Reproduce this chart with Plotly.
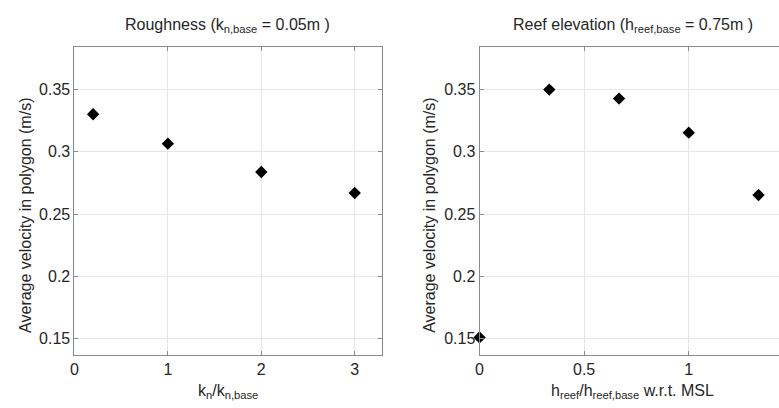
import plotly.graph_objects as go

W, H = 779, 408

# Data
rough_x = [0.2, 1, 2, 3]
rough_v = [0.3302, 0.3066, 0.2838, 0.2670]
reef_x = [0, 1/3, 2/3, 1, 4/3]
reef_v = [0.151, 0.350, 0.3428, 0.3154, 0.2654]

y_ticks = [0.15, 0.2, 0.25, 0.3, 0.35]
y_ticklabels = ["0.15", "0.2", "0.25", "0.3", "0.35"]
rough_ticks = [0, 1, 2, 3]
reef_ticks = [0, 0.5, 1, 1.5]
reef_ticklabels = ["0", "0.5", "1", "1.5"]

FONT = "Liberation Sans, Arial, sans-serif"
TXT = "#262626"
AX = "#8a8a8a"
GRID = "#e6e6e6"

def px(x):
    return x / W

def py(y):
    return 1 - y / H

fig = go.Figure()
mk = dict(symbol="diamond", size=9.5, color="black", line=dict(width=0))
fig.add_trace(go.Scatter(x=rough_x, y=rough_v, mode="markers", marker=mk,
                         xaxis="x", yaxis="y", showlegend=False, cliponaxis=False))
fig.add_trace(go.Scatter(x=reef_x, y=reef_v, mode="markers", marker=mk,
                         xaxis="x2", yaxis="y2", showlegend=False, cliponaxis=False))

ydom = [py(355), py(46.5)]
yrange = [0.1369, 0.3846]

common = dict(showline=True, linecolor=AX, linewidth=1, ticks="inside", ticklen=4,
              tickcolor=AX, showgrid=True, gridcolor=GRID, gridwidth=1, zeroline=False,
              tickfont=dict(family=FONT, size=16, color=TXT))

fig.update_layout(
    width=W, height=H,
    margin=dict(l=0, r=0, t=0, b=0),
    paper_bgcolor="white", plot_bgcolor="white",
    xaxis=dict(domain=[px(70.8), px(379.5)], range=[0, 3.287], tickvals=rough_ticks,
               mirror="ticks", anchor="y", **common),
    yaxis=dict(domain=ydom, range=yrange, tickvals=y_ticks, ticktext=y_ticklabels,
               mirror="ticks", anchor="x", **common),
    xaxis2=dict(domain=[px(478), 1.0], range=[0, (779 - 478) / 210.3], tickvals=reef_ticks,
                ticktext=reef_ticklabels, mirror="ticks", anchor="y2", **common),
    yaxis2=dict(domain=ydom, range=yrange, tickvals=y_ticks, ticktext=y_ticklabels,
                mirror=False, anchor="x2", **common),
)

def ann(text, x, y, angle=0, size=16):
    fig.add_annotation(text=text, x=px(x), y=py(y), xref="paper", yref="paper",
                       showarrow=False, textangle=angle, xanchor="center", yanchor="middle",
                       font=dict(family=FONT, size=size, color=TXT))

ann("Roughness (k<sub>n,base</sub> = 0.05m )", 225, 25)
ann("Reef elevation (h<sub>reef,base</sub> = 0.75m )", 632, 25)
ann("k<sub>n</sub>/k<sub>n,base</sub>", 225, 391)
ann("h<sub>reef</sub>/h<sub>reef,base</sub> w.r.t. MSL", 632, 391)
ann("Average velocity in polygon (m/s)", 21, 215, angle=-90)
ann("Average velocity in polygon (m/s)", 427, 215, angle=-90)

fig.write_html("out.html")
